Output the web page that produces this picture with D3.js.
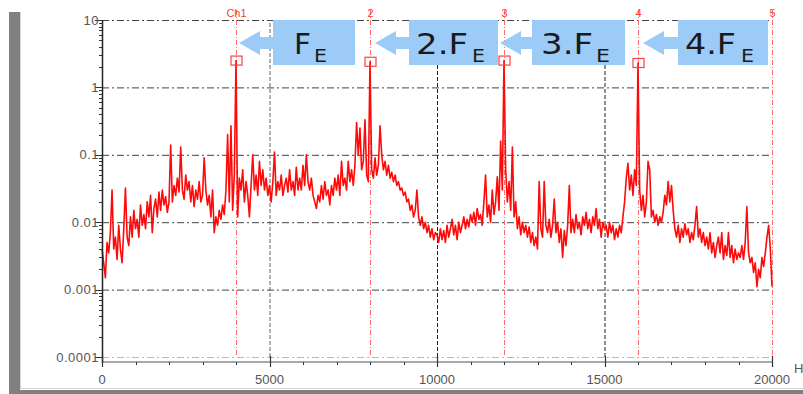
<!DOCTYPE html>
<html>
<head>
<meta charset="utf-8">
<script src="https://cdn.jsdelivr.net/npm/d3@7"></script>
<style>
  html, body { margin: 0; padding: 0; background: #fff; overflow: hidden; }
  svg { display: block; }
</style>
</head>
<body>
<div id="chart"></div>
<script>
// spectrum amplitude, one value every 50 Hz from 0 to 20000 Hz
const amplitude = [
  0.004, 0.0025, 0.0015, 0.005, 0.0035, 0.007, 0.03, 0.004, 0.006, 0.0028, 0.009, 0.004, 0.0025, 0.008, 0.032, 0.006, 0.0045, 0.012, 0.006, 0.015,
  0.008, 0.011, 0.006, 0.018, 0.009, 0.013, 0.008, 0.02, 0.012, 0.025, 0.007, 0.016, 0.022, 0.012, 0.028, 0.015, 0.03, 0.018, 0.024, 0.014,
  0.02, 0.14, 0.02, 0.035, 0.025, 0.045, 0.028, 0.13, 0.03, 0.022, 0.05, 0.03, 0.04, 0.02, 0.035, 0.017, 0.03, 0.022, 0.04, 0.02,
  0.025, 0.09, 0.03, 0.018, 0.025, 0.012, 0.03, 0.007, 0.012, 0.009, 0.015, 0.011, 0.018, 0.013, 0.03, 0.2, 0.02, 0.27, 0.015, 0.05,
  2.5, 0.012, 0.045, 0.03, 0.06, 0.02, 0.04, 0.025, 0.012, 0.035, 0.1, 0.03, 0.05, 0.025, 0.08, 0.035, 0.06, 0.03, 0.045, 0.025,
  0.035, 0.02, 0.04, 0.11, 0.025, 0.04, 0.03, 0.05, 0.025, 0.035, 0.045, 0.028, 0.06, 0.03, 0.04, 0.025, 0.065, 0.03, 0.045, 0.03,
  0.07, 0.035, 0.1, 0.04, 0.03, 0.045, 0.025, 0.02, 0.016, 0.025, 0.02, 0.035, 0.022, 0.04, 0.025, 0.03, 0.018, 0.035, 0.025, 0.045,
  0.03, 0.05, 0.025, 0.08, 0.035, 0.045, 0.03, 0.08, 0.04, 0.06, 0.035, 0.07, 0.3, 0.1, 0.25, 0.06, 0.08, 0.33, 0.05, 0.04,
  2.4, 0.06, 0.045, 0.09, 0.05, 0.07, 0.27, 0.1, 0.06, 0.08, 0.05, 0.07, 0.045, 0.055, 0.04, 0.05, 0.035, 0.04, 0.03, 0.032,
  0.025, 0.028, 0.02, 0.022, 0.015, 0.018, 0.012, 0.015, 0.03, 0.012, 0.009, 0.012, 0.008, 0.01, 0.007, 0.009, 0.006, 0.008, 0.0055, 0.007,
  0.0065, 0.005, 0.008, 0.0055, 0.0075, 0.005, 0.009, 0.006, 0.008, 0.011, 0.0065, 0.009, 0.0055, 0.01, 0.007, 0.009, 0.012, 0.008, 0.011, 0.0085,
  0.013, 0.01, 0.014, 0.009, 0.016, 0.011, 0.013, 0.009, 0.02, 0.05, 0.012, 0.018, 0.01, 0.03, 0.013, 0.02, 0.047, 0.015, 0.16, 0.03,
  2.5, 0.06, 0.02, 0.04, 0.015, 0.13, 0.012, 0.02, 0.008, 0.012, 0.0065, 0.01, 0.007, 0.009, 0.006, 0.0085, 0.005, 0.007, 0.0045, 0.006,
  0.004, 0.04, 0.008, 0.006, 0.04, 0.009, 0.007, 0.011, 0.006, 0.009, 0.022, 0.007, 0.01, 0.005, 0.008, 0.003, 0.0075, 0.0045, 0.009, 0.035,
  0.007, 0.011, 0.007, 0.013, 0.008, 0.01, 0.0065, 0.012, 0.009, 0.014, 0.008, 0.011, 0.007, 0.012, 0.009, 0.016, 0.008, 0.011, 0.006, 0.01,
  0.008, 0.009, 0.006, 0.01, 0.007, 0.009, 0.0055, 0.008, 0.006, 0.009, 0.007, 0.012, 0.02, 0.045, 0.075, 0.03, 0.05, 0.025, 0.06, 0.035,
  2.3, 0.03, 0.015, 0.025, 0.012, 0.02, 0.08, 0.06, 0.012, 0.015, 0.01, 0.013, 0.009, 0.012, 0.01, 0.014, 0.025, 0.018, 0.04, 0.02,
  0.035, 0.015, 0.008, 0.006, 0.009, 0.005, 0.008, 0.006, 0.0095, 0.0065, 0.008, 0.005, 0.007, 0.0055, 0.009, 0.017, 0.006, 0.008, 0.005, 0.007,
  0.0045, 0.006, 0.004, 0.007, 0.0035, 0.005, 0.003, 0.0045, 0.006, 0.0035, 0.007, 0.0028, 0.0045, 0.0032, 0.007, 0.003, 0.0045, 0.0025, 0.004, 0.0028,
  0.0035, 0.003, 0.0045, 0.0028, 0.005, 0.017, 0.0035, 0.0025, 0.003, 0.0018, 0.0025, 0.0011, 0.002, 0.0015, 0.003, 0.0022, 0.0035, 0.006, 0.009, 0.004,
  0.0011
];
const freqStep = 50;

const xTicks = [0, 5000, 10000, 15000, 20000];
const yTicks = [10, 1, 0.1, 0.01, 0.001, 0.0001];
const yTickLabels = ['10', '1', '0.1', '0.01', '0.001', '0.0001'];

const cursorFreqs = [4000, 8000, 12000, 16000, 20000];
const cursorLabels = ['Ch1', '2', '3', '4', '5'];
const markerFreqs = [4000, 8000, 12000, 16000];

const calloutLabels = ['F', '2.F', '3.F', '4.F'];
const calloutSub = 'E';

const width = 803;
const height = 394;
const plot = { left: 102, right: 772, top: 20, bottom: 357 };

const svg = d3
  .select('#chart')
  .append('svg')
  .attr('width', width)
  .attr('height', height)
  .style('font-family', '"Liberation Sans", Arial, sans-serif');

// window frame
svg.append('rect').attr('x', 9).attr('y', 12).attr('width', 11).attr('height', 382).attr('fill', '#808080');
svg.append('rect').attr('x', 9).attr('y', 390).attr('width', 794).attr('height', 4).attr('fill', '#808080');
svg.append('line').attr('x1', 20.5).attr('x2', 20.5).attr('y1', 12).attr('y2', 389).attr('stroke', '#d4d4d4');
svg.append('line').attr('x1', 20).attr('x2', 803).attr('y1', 388.5).attr('y2', 388.5).attr('stroke', '#d4d4d4');

const x = d3.scaleLinear().domain([0, 20000]).range([plot.left, plot.right]);
const y = d3.scaleLog().domain([0.0001, 10]).range([plot.bottom, plot.top]);

// horizontal grid
const yGrid = svg
  .append('g')
  .attr('transform', `translate(${plot.left},0)`)
  .call(d3.axisLeft(y).tickValues(yTicks).tickSize(-(plot.right - plot.left)).tickFormat(''));
yGrid.select('.domain').remove();
yGrid
  .selectAll('line')
  .attr('stroke', (d) => (d === 0.0001 ? '#b8b8b8' : '#444'))
  .attr('stroke-dasharray', '7,3,2,3')
  .attr('stroke-width', 1);

// vertical grid
const xGrid = svg
  .append('g')
  .attr('transform', `translate(0,${plot.bottom})`)
  .call(d3.axisBottom(x).tickValues([5000, 10000, 15000]).tickSize(-(plot.bottom - plot.top)).tickFormat(''));
xGrid.select('.domain').remove();
xGrid
  .selectAll('line')
  .attr('stroke', (d) => (d === 5000 ? '#666' : '#222'))
  .attr('stroke-dasharray', '4,2')
  .attr('stroke-width', 1);

// cursors
svg
  .selectAll('line.cursor')
  .data(cursorFreqs)
  .enter()
  .append('line')
  .attr('class', 'cursor')
  .attr('x1', (d) => Math.round(x(d)) + 0.5)
  .attr('x2', (d) => Math.round(x(d)) + 0.5)
  .attr('y1', 10)
  .attr('y2', plot.bottom)
  .attr('stroke', '#ff6a6a')
  .attr('stroke-dasharray', '5,2,1,2')
  .attr('stroke-width', 1);

svg
  .selectAll('text.cursor-label')
  .data(cursorFreqs)
  .enter()
  .append('text')
  .attr('class', 'cursor-label')
  .attr('x', (d) => Math.round(x(d)) + 0.5)
  .attr('y', 17)
  .attr('text-anchor', 'middle')
  .attr('fill', '#ff3b3b')
  .style('font-size', '11px')
  .text((d, i) => cursorLabels[i]);

// trace
const points = amplitude.map((v, i) => [i * freqStep, v]);
const line = d3
  .line()
  .x((d) => x(d[0]))
  .y((d) => y(d[1]));

svg
  .append('path')
  .datum(points)
  .attr('fill', 'none')
  .attr('stroke', '#ff0a0a')
  .attr('stroke-width', 1.6)
  .attr('stroke-linejoin', 'round')
  .attr('d', line);

// peak markers
svg
  .selectAll('rect.marker')
  .data(markerFreqs)
  .enter()
  .append('rect')
  .attr('class', 'marker')
  .attr('x', (d) => Math.round(x(d)) - 5)
  .attr('y', (d) => y(amplitude[d / freqStep]) - 4.5)
  .attr('width', 11)
  .attr('height', 9)
  .attr('fill', 'none')
  .attr('stroke', '#ff4040')
  .attr('stroke-width', 1.2);

// axes
svg
  .append('line')
  .attr('x1', plot.left + 0.5)
  .attr('x2', plot.left + 0.5)
  .attr('y1', plot.top)
  .attr('y2', 363)
  .attr('stroke', '#222')
  .attr('stroke-width', 1.5);
svg
  .append('line')
  .attr('x1', plot.left)
  .attr('x2', plot.right)
  .attr('y1', 362)
  .attr('y2', 362)
  .attr('stroke', '#555')
  .attr('stroke-width', 1);

const minorY = [];
d3.range(-4, 1).forEach((e) => {
  d3.range(2, 10).forEach((k) => minorY.push(k * Math.pow(10, e)));
});
svg
  .selectAll('line.minor-y')
  .data(minorY)
  .enter()
  .append('line')
  .attr('class', 'minor-y')
  .attr('x1', plot.left - 3)
  .attr('x2', plot.left)
  .attr('y1', (d) => Math.round(y(d)) + 0.5)
  .attr('y2', (d) => Math.round(y(d)) + 0.5)
  .attr('stroke', '#333');

svg
  .selectAll('line.major-y')
  .data(yTicks)
  .enter()
  .append('line')
  .attr('class', 'major-y')
  .attr('x1', plot.left - 7)
  .attr('x2', plot.left)
  .attr('y1', (d) => Math.round(y(d)) + 0.5)
  .attr('y2', (d) => Math.round(y(d)) + 0.5)
  .attr('stroke', '#333');

svg
  .selectAll('text.y-label')
  .data(yTicks)
  .enter()
  .append('text')
  .attr('class', 'y-label')
  .attr('x', 99)
  .attr('y', (d) => y(d) + 4.5)
  .attr('text-anchor', 'end')
  .attr('fill', '#555')
  .style('font-size', '13px')
  .style('letter-spacing', '0.5px')
  .text((d, i) => yTickLabels[i]);

svg
  .selectAll('line.minor-x')
  .data(d3.range(1000, 20000, 1000).filter((d) => d % 5000 !== 0))
  .enter()
  .append('line')
  .attr('class', 'minor-x')
  .attr('x1', (d) => Math.round(x(d)) + 0.5)
  .attr('x2', (d) => Math.round(x(d)) + 0.5)
  .attr('y1', 362)
  .attr('y2', 365)
  .attr('stroke', '#333');

svg
  .selectAll('line.major-x')
  .data(xTicks)
  .enter()
  .append('line')
  .attr('class', 'major-x')
  .attr('x1', (d) => Math.round(x(d)) + 0.5)
  .attr('x2', (d) => Math.round(x(d)) + 0.5)
  .attr('y1', 356)
  .attr('y2', 367)
  .attr('stroke', '#333')
  .attr('stroke-width', 1.2);

svg
  .selectAll('text.x-label')
  .data(xTicks)
  .enter()
  .append('text')
  .attr('class', 'x-label')
  .attr('x', (d) => x(d))
  .attr('y', 384)
  .attr('text-anchor', 'middle')
  .attr('fill', '#555')
  .style('font-size', '13px')
  .text((d) => d);

svg
  .append('text')
  .attr('x', 794)
  .attr('y', 373)
  .attr('fill', '#555')
  .style('font-size', '13px')
  .text('Hz');

// callouts: arrow pointing at each cursor, blue box with harmonic label
const callouts = [
  { tip: 239, left: 273, right: 355, textX: 294, textLen: 17, subX: 314, subLen: 13 },
  { tip: 375, left: 409, right: 498, textX: 416, textLen: 52, subX: 472, subLen: 13 },
  { tip: 500, left: 532, right: 625, textX: 541, textLen: 52, subX: 596, subLen: 14 },
  { tip: 643, left: 678, right: 768, textX: 685, textLen: 51, subX: 741, subLen: 13 }
];
const boxTop = 20;
const boxBottom = 65;
const arrowY = 43;
const blue = '#9dcbf7';

const callout = svg
  .selectAll('g.callout')
  .data(callouts)
  .enter()
  .append('g')
  .attr('class', 'callout');

callout
  .append('rect')
  .attr('x', (d) => d.left)
  .attr('y', boxTop)
  .attr('width', (d) => d.right - d.left)
  .attr('height', boxBottom - boxTop)
  .attr('fill', blue);

callout
  .append('path')
  .attr('fill', blue)
  .attr('d', (d) => {
    const hb = d.tip + 21;
    return `M${d.tip},${arrowY} L${hb},${arrowY - 12} L${hb},${arrowY - 6} L${d.left + 1},${arrowY - 6} L${d.left + 1},${arrowY + 6} L${hb},${arrowY + 6} L${hb},${arrowY + 12} Z`;
  });

callout
  .append('text')
  .attr('x', (d) => d.textX)
  .attr('y', 54)
  .attr('textLength', (d) => d.textLen)
  .attr('lengthAdjust', 'spacingAndGlyphs')
  .attr('fill', '#1a1a1a')
  .style('font-family', '"DejaVu Sans", sans-serif')
  .style('font-size', '29px')
  .text((d, i) => calloutLabels[i]);

callout
  .append('text')
  .attr('x', (d) => d.subX)
  .attr('y', 62)
  .attr('textLength', (d) => d.subLen)
  .attr('lengthAdjust', 'spacingAndGlyphs')
  .attr('fill', '#1a1a1a')
  .style('font-family', '"DejaVu Sans", sans-serif')
  .style('font-size', '17px')
  .text(calloutSub);
</script>
</body>
</html>
